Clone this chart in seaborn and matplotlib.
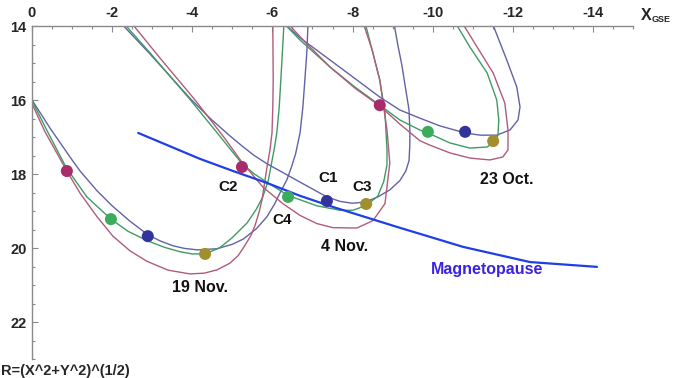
import matplotlib
matplotlib.use("Agg")
import matplotlib.pyplot as plt
import seaborn as sns
from matplotlib.ticker import MultipleLocator, FixedLocator, FixedFormatter

# ---------------- data (X_GSE, R) ----------------
x_ticks = [0, -2, -4, -6, -8, -10, -12, -14]
x_tick_labels = ["0", "-2", "-4", "-6", "-8", "-10", "-12", "-14"]
y_ticks = [14, 16, 18, 20, 22]
y_tick_labels = ["14", "16", "18", "20", "22"]

# 19 Nov orbit
nov19_c1_x = [0.0, -0.45, -1.0, -1.2, -1.62, -2.0, -2.45, -2.89, -3.2, -3.52, -3.8, -4.12, -4.62, -5.0, -5.27, -5.6, -5.86, -6.05, -6.19, -6.36, -6.48, -6.58, -6.69, -6.76, -6.81, -6.86, -6.89]
nov19_c1_y = [16.00, 16.76, 17.62, 17.92, 18.45, 18.86, 19.28, 19.64, 19.81, 19.94, 20.01, 20.05, 20.02, 19.90, 19.76, 19.48, 19.16, 18.82, 18.51, 18.16, 17.80, 17.45, 16.89, 16.20, 15.46, 14.70, 13.90]
nov19_c4_x = [0.0, -0.4, -0.85, -1.37, -1.97, -2.4, -2.87, -3.3, -3.69, -4.0, -4.32, -4.69, -5.0, -5.37, -5.6, -5.76, -5.9, -5.98, -6.05, -6.11, -6.17, -6.21, -6.25, -6.29]
nov19_c4_y = [16.02, 16.88, 17.82, 18.62, 19.22, 19.55, 19.80, 19.98, 20.10, 20.16, 20.16, 19.99, 19.72, 19.32, 18.95, 18.62, 18.16, 17.70, 17.30, 16.89, 16.20, 15.46, 14.70, 13.90]
nov19_c2_x = [0.0, -0.32, -0.87, -1.2, -1.62, -2.02, -2.45, -2.87, -3.4, -3.94, -4.3, -4.62, -4.94, -5.15, -5.32, -5.47, -5.57, -5.67, -5.74, -5.81, -5.88, -5.94, -5.99, -6.01, -6.02, -6.01]
nov19_c2_y = [16.10, 16.85, 17.92, 18.52, 19.15, 19.68, 20.08, 20.36, 20.60, 20.70, 20.68, 20.59, 20.41, 20.20, 19.92, 19.65, 19.38, 19.02, 18.70, 18.20, 17.72, 17.35, 16.89, 16.20, 15.46, 13.90]

# 4 Nov orbit
nov4_c1_x = [-2.20, -2.94, -3.94, -4.45, -4.94, -5.24, -5.52, -5.86, -6.31, -6.69, -7.06, -7.36, -7.69, -7.99, -8.31, -8.63, -8.93, -9.18, -9.33, -9.41, -9.43, -9.43, -9.41, -9.33, -9.23, -9.13, -9.03]
nov4_c1_y = [13.90, 14.75, 15.95, 16.50, 16.97, 17.24, 17.48, 17.72, 17.99, 18.22, 18.44, 18.62, 18.74, 18.79, 18.76, 18.62, 18.43, 18.18, 17.92, 17.64, 17.22, 16.81, 16.27, 15.73, 15.05, 14.51, 13.90]
nov4_c4_x = [-2.27, -2.94, -3.94, -4.69, -5.24, -5.55, -5.86, -6.39, -7.11, -7.69, -8.01, -8.34, -8.63, -8.78, -8.86, -8.86, -8.81, -8.68, -8.49, -8.31]
nov4_c4_y = [13.90, 14.72, 15.98, 16.98, 17.72, 18.00, 18.22, 18.58, 18.86, 18.98, 18.98, 18.85, 18.60, 18.20, 17.75, 17.35, 16.35, 15.46, 14.65, 13.90]
nov4_c2_x = [-2.47, -3.19, -4.07, -4.82, -5.24, -5.76, -6.26, -6.69, -7.11, -7.51, -8.11, -8.51, -8.81, -8.88, -8.93, -8.86, -8.68, -8.49, -8.26]
nov4_c2_y = [13.90, 14.86, 16.00, 17.05, 17.68, 18.35, 18.80, 19.12, 19.34, 19.45, 19.46, 19.26, 18.80, 18.16, 17.70, 16.81, 15.46, 14.65, 13.90]

# 23 Oct orbit
oct23_c1_x = [-6.26, -6.69, -7.44, -8.11, -8.68, -9.18, -9.68, -10.18, -10.81, -11.18, -11.60, -11.93, -12.13, -12.18, -12.10, -11.85, -11.48]
oct23_c1_y = [13.90, 14.32, 14.92, 15.46, 15.92, 16.27, 16.49, 16.70, 16.89, 16.95, 16.95, 16.81, 16.54, 16.19, 15.65, 14.92, 13.90]
oct23_c4_x = [-6.26, -6.69, -7.44, -8.06, -8.68, -9.18, -9.68, -9.88, -10.43, -10.93, -11.36, -11.56, -11.63, -11.65, -11.60, -11.36, -10.93, -10.56]
oct23_c4_y = [13.90, 14.38, 15.11, 15.65, 16.14, 16.54, 16.81, 16.89, 17.16, 17.30, 17.27, 17.11, 16.95, 16.54, 16.00, 15.27, 14.57, 13.90]
oct23_c2_x = [-6.36, -6.81, -7.44, -8.06, -8.68, -9.18, -9.68, -9.93, -10.43, -10.93, -11.43, -11.75, -11.88, -11.88, -11.80, -11.51, -11.11, -10.73]
oct23_c2_y = [13.90, 14.43, 15.11, 15.68, 16.16, 16.65, 17.10, 17.22, 17.43, 17.57, 17.62, 17.54, 17.35, 16.81, 16.08, 15.27, 14.57, 13.90]

# spacecraft positions (19 Nov, 4 Nov, 23 Oct)
c1_dot_x = [-2.89, -7.36, -10.81]
c1_dot_y = [19.68, 18.73, 16.86]
c2_dot_x = [-0.87, -5.24, -8.68]
c2_dot_y = [17.92, 17.81, 16.14]
c3_dot_x = [-4.32, -8.34, -11.51]
c3_dot_y = [20.16, 18.81, 17.11]
c4_dot_x = [-1.97, -6.39, -9.88]
c4_dot_y = [19.22, 18.62, 16.86]

# magnetopause
mp_x = [-2.65, -4.19, -5.02, -5.86, -6.69, -7.51, -9.11, -10.76, -12.43, -14.10]
mp_y = [16.89, 17.59, 17.92, 18.24, 18.59, 18.89, 19.43, 19.97, 20.38, 20.51]

# labels
sc_labels = ["C2", "C4", "C1", "C3"]
sc_label_x = [-4.89, -6.24, -7.39, -8.24]
sc_label_y = [18.35, 19.24, 18.11, 18.35]
date_labels = ["19 Nov.", "4 Nov.", "23 Oct."]
date_label_x = [-4.19, -7.81, -11.85]
date_label_y = [21.08, 19.97, 18.16]

# ---------------- style ----------------
sns.set_theme(style="white")
plt.rcParams['font.family'] = ['Liberation Sans', 'DejaVu Sans']
plt.rcParams['axes.unicode_minus'] = False

col_c1 = "#6262a6"
col_c4 = "#3e9c62"
col_c2 = "#b05c7a"
dot_c1 = "#33339c"
dot_c2 = "#a82b6a"
dot_c3 = "#a08f2c"
dot_c4 = "#3bab5c"

fig = plt.figure(figsize=(6.73, 3.78), dpi=100)
ax = fig.add_axes([32/673, 1 - 359/378, 601/673, 333/378])

curves = [
    (nov19_c1_x, nov19_c1_y, col_c1), (nov19_c4_x, nov19_c4_y, col_c4), (nov19_c2_x, nov19_c2_y, col_c2),
    (nov4_c1_x, nov4_c1_y, col_c1), (nov4_c4_x, nov4_c4_y, col_c4), (nov4_c2_x, nov4_c2_y, col_c2),
    (oct23_c1_x, oct23_c1_y, col_c1), (oct23_c4_x, oct23_c4_y, col_c4), (oct23_c2_x, oct23_c2_y, col_c2),
]
for cx, cy, cc in curves:
    sns.lineplot(x=cx, y=cy, sort=False, estimator=None, color=cc, lw=1.0, ax=ax,
                 solid_joinstyle="round")

sns.lineplot(x=mp_x, y=mp_y, sort=False, estimator=None, color="#1f3fe6", lw=1.6, ax=ax)

for dx, dy, dc in [(c2_dot_x, c2_dot_y, dot_c2), (c4_dot_x, c4_dot_y, dot_c4),
                   (c1_dot_x, c1_dot_y, dot_c1), (c3_dot_x, c3_dot_y, dot_c3)]:
    sns.scatterplot(x=dx, y=dy, color=dc, s=75, edgecolor="none", ax=ax, zorder=5)

for t, tx, ty in zip(sc_labels, sc_label_x, sc_label_y):
    ax.text(tx, ty, t, ha="center", va="center", fontsize=11, fontweight="bold", color="#111111")
for t, tx, ty in zip(date_labels, date_label_x, date_label_y):
    ax.text(tx, ty, t, ha="center", va="center", fontsize=11.5, fontweight="bold", color="#111111")
ax.text(-11.36, 20.59, "Magnetopause", ha="center", va="center", fontsize=11.5,
        fontweight="bold", color="#3a22e0")

ax.set_xlim(0, -15)
ax.set_ylim(23, 14)

ax.xaxis.tick_top()
ax.xaxis.set_major_locator(FixedLocator(x_ticks))
ax.xaxis.set_major_formatter(FixedFormatter(x_tick_labels))
ax.yaxis.set_major_locator(FixedLocator(y_ticks))
ax.yaxis.set_major_formatter(FixedFormatter(y_tick_labels))
ax.xaxis.set_minor_locator(MultipleLocator(0.5))
ax.yaxis.set_minor_locator(MultipleLocator(0.5))
ax.tick_params(which="both", direction="in", color="#8a8a8a", width=0.8,
               top=True, bottom=False, left=True, right=False,
               labeltop=True, labelbottom=False, labelsize=10.5)
ax.tick_params(which="major", length=4, pad=4)
ax.tick_params(which="minor", length=2.5)
for lab in ax.get_xticklabels() + ax.get_yticklabels():
    lab.set_fontweight("bold")

for side in ["right", "bottom"]:
    ax.spines[side].set_visible(False)
for side in ["top", "left"]:
    ax.spines[side].set_color("#8a8a8a")
    ax.spines[side].set_linewidth(1.0)
ax.set_xlabel("")
ax.set_ylabel("")
ax.grid(False)

fig.text(641/673, 1 - 16/378, "X", ha="left", va="center", fontsize=11.5, fontweight="bold")
fig.text(652/673, 1 - 19/378, "GSE", ha="left", va="center", fontsize=6.5, fontweight="bold")
fig.text(0.5/673, 1 - 371/378, "R=(X^2+Y^2)^(1/2)", ha="left", va="center", fontsize=10.5, fontweight="bold")

fig.savefig("out.png", dpi=100)
